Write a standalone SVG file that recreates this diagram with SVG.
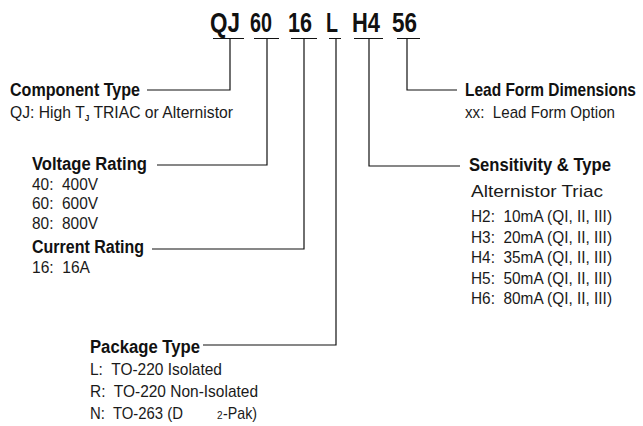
<svg xmlns="http://www.w3.org/2000/svg" width="643" height="426" viewBox="0 0 643 426" xml:space="preserve">
<style>
text{font-family:"Liberation Sans",Arial,sans-serif;fill:#1a1a1a;white-space:pre}
.t{font-size:28px;font-weight:bold;fill:#111}
.h{font-size:18px;font-weight:bold;fill:#111}
.d{font-size:17px}
.sub{font-size:9px;font-weight:bold}
.sup{font-size:10px}
.c{fill:none;stroke:#111;stroke-width:1.2}
</style>
<rect width="643" height="426" fill="#fff"/>
<g id="title">
<text class="t" x="210" y="32" textLength="30" lengthAdjust="spacingAndGlyphs">QJ</text>
<text class="t" x="250" y="32" textLength="22" lengthAdjust="spacingAndGlyphs">60</text>
<text class="t" x="288" y="32" textLength="24" lengthAdjust="spacingAndGlyphs">16</text>
<text class="t" x="326" y="32" textLength="12" lengthAdjust="spacingAndGlyphs">L</text>
<text class="t" x="352" y="32" textLength="28" lengthAdjust="spacingAndGlyphs">H4</text>
<text class="t" x="392" y="32" textLength="25" lengthAdjust="spacingAndGlyphs">56</text>
</g>
<g id="connectors">
<path class="c" d="M213 38.5H244M254 38.5H279M291 38.5H317M329 38.5H341M354 38.5H383M397 38.5H420"/>
<path class="c" d="M230 38.5V90H147"/>
<path class="c" d="M267 38.5V165H157"/>
<path class="c" d="M304 38.5V249H152"/>
<path class="c" d="M336 38.5V345H203"/>
<path class="c" d="M369 38.5V166H460"/>
<path class="c" d="M407 38.5V90H457"/>
</g>
<g id="component-type">
<text class="h" x="10" y="96" textLength="130" lengthAdjust="spacingAndGlyphs">Component Type</text>
<text class="d" x="10" y="118" textLength="223" lengthAdjust="spacingAndGlyphs">QJ: High T<tspan class="sub" dy="3">J</tspan><tspan dy="-3"> TRIAC or Alternistor</tspan></text>
</g>
<g id="voltage-rating">
<text class="h" x="32" y="170" textLength="115" lengthAdjust="spacingAndGlyphs">Voltage Rating</text>
<text class="d" x="32" y="190" textLength="66" lengthAdjust="spacingAndGlyphs">40:  400V</text>
<text class="d" x="32" y="209" textLength="66" lengthAdjust="spacingAndGlyphs">60:  600V</text>
<text class="d" x="32" y="229" textLength="66" lengthAdjust="spacingAndGlyphs">80:  800V</text>
</g>
<g id="current-rating">
<text class="h" x="32" y="253" textLength="112" lengthAdjust="spacingAndGlyphs">Current Rating</text>
<text class="d" x="32" y="273" textLength="58" lengthAdjust="spacingAndGlyphs">16:  16A</text>
</g>
<g id="package-type">
<text class="h" x="90" y="353" textLength="110" lengthAdjust="spacingAndGlyphs">Package Type</text>
<text class="d" x="90" y="375" textLength="132" lengthAdjust="spacingAndGlyphs">L:  TO-220 Isolated</text>
<text class="d" x="90" y="397" textLength="168" lengthAdjust="spacingAndGlyphs">R:  TO-220 Non-Isolated</text>
<text class="d" x="90" y="419" textLength="93" lengthAdjust="spacingAndGlyphs">N:  TO-263 (D</text>
<text class="sup" x="217" y="419">2</text>
<text class="d" x="223" y="419" textLength="34" lengthAdjust="spacingAndGlyphs">-Pak)</text>
</g>
<g id="sensitivity-type">
<text class="h" x="469" y="171" textLength="142" lengthAdjust="spacingAndGlyphs">Sensitivity &amp; Type</text>
<text class="d" x="471" y="197" textLength="132" lengthAdjust="spacingAndGlyphs">Alternistor Triac</text>
<text class="d" x="471" y="222" textLength="141" lengthAdjust="spacingAndGlyphs">H2:  10mA (QI, II, III)</text>
<text class="d" x="471" y="243" textLength="141" lengthAdjust="spacingAndGlyphs">H3:  20mA (QI, II, III)</text>
<text class="d" x="471" y="263" textLength="141" lengthAdjust="spacingAndGlyphs">H4:  35mA (QI, II, III)</text>
<text class="d" x="471" y="284" textLength="141" lengthAdjust="spacingAndGlyphs">H5:  50mA (QI, II, III)</text>
<text class="d" x="471" y="304" textLength="141" lengthAdjust="spacingAndGlyphs">H6:  80mA (QI, II, III)</text>
</g>
<g id="lead-form">
<text class="h" transform="translate(465 96) scale(0.86 1)" x="0" y="0">Lead Form Dimensions</text>
<text class="d" x="465" y="118" textLength="150" lengthAdjust="spacingAndGlyphs">xx:  Lead Form Option</text>
</g>
</svg>
